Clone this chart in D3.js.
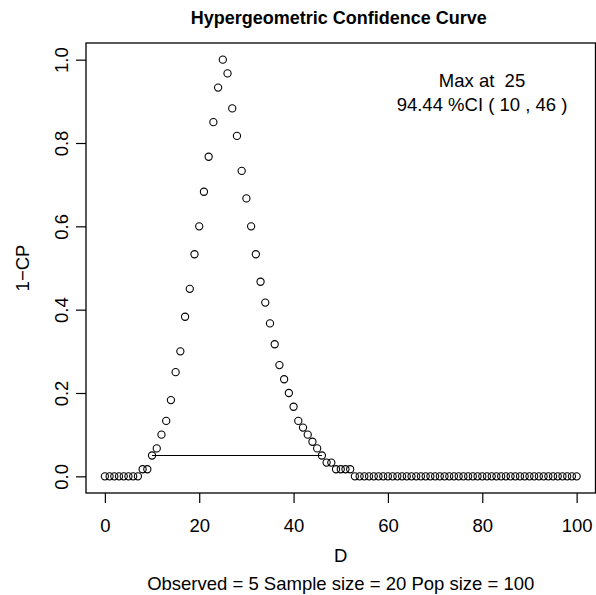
<!DOCTYPE html>
<html>
<head>
<meta charset="utf-8">
<script src="https://cdn.jsdelivr.net/npm/d3@7"></script>
<style>
  html, body { margin: 0; padding: 0; background: #fff; }
  svg { display: block; }
  text { font-family: "Liberation Sans", Arial, Helvetica, sans-serif; fill: #000; white-space: pre; }
</style>
</head>
<body>
<svg id="chart" width="596" height="595"></svg>
<script>
// ---- data ----
const dValues = [
  0,1,2,3,4,5,6,7,8,9,10,11,12,13,14,15,16,17,18,19,20,
  21,22,23,24,25,26,27,28,29,30,31,32,33,34,35,36,37,38,39,40,
  41,42,43,44,45,46,47,48,49,50,51,52,53,54,55,56,57,58,59,60,
  61,62,63,64,65,66,67,68,69,70,71,72,73,74,75,76,77,78,79,80,
  81,82,83,84,85,86,87,88,89,90,91,92,93,94,95,96,97,98,99,100
];
const oneMinusCP = [
  0,0,0,0,0,0,0,0,0.017,0.017,0.050,
  0.067,0.100,0.133,0.183,0.250,0.300,0.383,0.450,0.533,0.600,
  0.683,0.767,0.850,0.933,1.000,0.967,0.883,0.817,0.733,0.667,
  0.600,0.533,0.467,0.417,0.367,0.317,0.267,0.233,0.200,0.167,
  0.133,0.117,0.100,0.083,0.067,0.050,0.033,0.033,0.017,0.017,
  0.017,0.017,0,0,0,0,0,0,0,0,
  0,0,0,0,0,0,0,0,0,0,
  0,0,0,0,0,0,0,0,0,0,
  0,0,0,0,0,0,0,0,0,0,
  0,0,0,0,0,0,0,0,0,0
];
const ciBounds = [10, 46];
const ciLineLevel = 0.05;
const xTicks = [0, 20, 40, 60, 80, 100];
const yTicks = [0, 0.2, 0.4, 0.6, 0.8, 1.0];
const yTickLabels = ["0.0", "0.2", "0.4", "0.6", "0.8", "1.0"];
const titleText = "Hypergeometric Confidence Curve";
const xLabel = "D";
const yLabel = "1\u2212CP";
const subText = "Observed = 5 Sample size = 20 Pop size = 100";
const noteLines = ["Max at  25", "94.44 %CI ( 10 , 46 )"];

// ---- layout ----
const FS = 18.5;
const box = { left: 86, right: 595.5, top: 43, bottom: 493 };
const svg = d3.select("#chart");
svg.append("rect").attr("width", 596).attr("height", 595).attr("fill", "#fff");

const x = d3.scaleLinear().domain([-4, 104]).range([box.left, box.right]);
const y = d3.scaleLinear().domain([-0.04, 1.04]).range([box.bottom, box.top]);

// frame
svg.append("rect")
  .attr("x", box.left).attr("y", box.top)
  .attr("width", box.right - box.left).attr("height", box.bottom - box.top)
  .attr("fill", "none").attr("stroke", "#000").attr("stroke-width", 1.3);

// x axis
const xAxis = d3.axisBottom(x).tickValues(xTicks).tickSize(10)
  .tickFormat(d3.format("d"));
const gx = svg.append("g").attr("transform", `translate(0,${box.bottom})`).call(xAxis);
gx.select(".domain").remove();
gx.selectAll(".tick line").attr("stroke", "#000").attr("stroke-width", 1.2);
gx.selectAll("text").attr("y", 39).attr("dy", null)
  .attr("font-size", FS).attr("font-family", "Liberation Sans, Arial, sans-serif").attr("fill", "#000");

// y axis
const yAxis = d3.axisLeft(y).tickValues(yTicks).tickSize(10)
  .tickFormat((d, i) => yTickLabels[i]);
const gy = svg.append("g").attr("transform", `translate(${box.left},0)`).call(yAxis);
gy.select(".domain").remove();
gy.selectAll(".tick line").attr("stroke", "#000").attr("stroke-width", 1.2);
gy.selectAll("text").remove();
gy.selectAll(".tick").append("text")
  .attr("transform", "translate(-24,0) rotate(-90)")
  .attr("text-anchor", "middle")
  .attr("dy", "0.35em")
  .attr("font-size", FS)
  .text((d, i) => yTickLabels[i]);

// CI line
svg.append("line")
  .attr("x1", x(ciBounds[0])).attr("x2", x(ciBounds[1]))
  .attr("y1", y(ciLineLevel)).attr("y2", y(ciLineLevel))
  .attr("stroke", "#000").attr("stroke-width", 1.1);

// points
svg.append("g").selectAll("circle")
  .data(dValues.map((d, i) => ({ d, v: oneMinusCP[i] })))
  .join("circle")
  .attr("cx", p => x(p.d)).attr("cy", p => y(p.v))
  .attr("r", 3.6)
  .attr("fill", "none").attr("stroke", "#000").attr("stroke-width", 1.1);

// texts
const cx = (box.left + box.right) / 2;
svg.append("text").attr("x", cx - 2).attr("y", 24).attr("text-anchor", "middle")
  .attr("font-size", 18).attr("font-weight", "bold").text(titleText);
svg.append("text").attr("x", cx).attr("y", 562).attr("text-anchor", "middle")
  .attr("font-size", FS).text(xLabel);
svg.append("text").attr("x", cx).attr("y", 590).attr("text-anchor", "middle")
  .attr("font-size", FS).text(subText);
svg.append("text").attr("transform", `translate(29,268) rotate(-90)`)
  .attr("text-anchor", "middle").attr("font-size", FS).text(yLabel);

noteLines.forEach((t, i) => {
  svg.append("text").attr("x", 482).attr("y", 87 + i * 24)
    .attr("text-anchor", "middle").attr("font-size", FS).text(t);
});
</script>
</body>
</html>
